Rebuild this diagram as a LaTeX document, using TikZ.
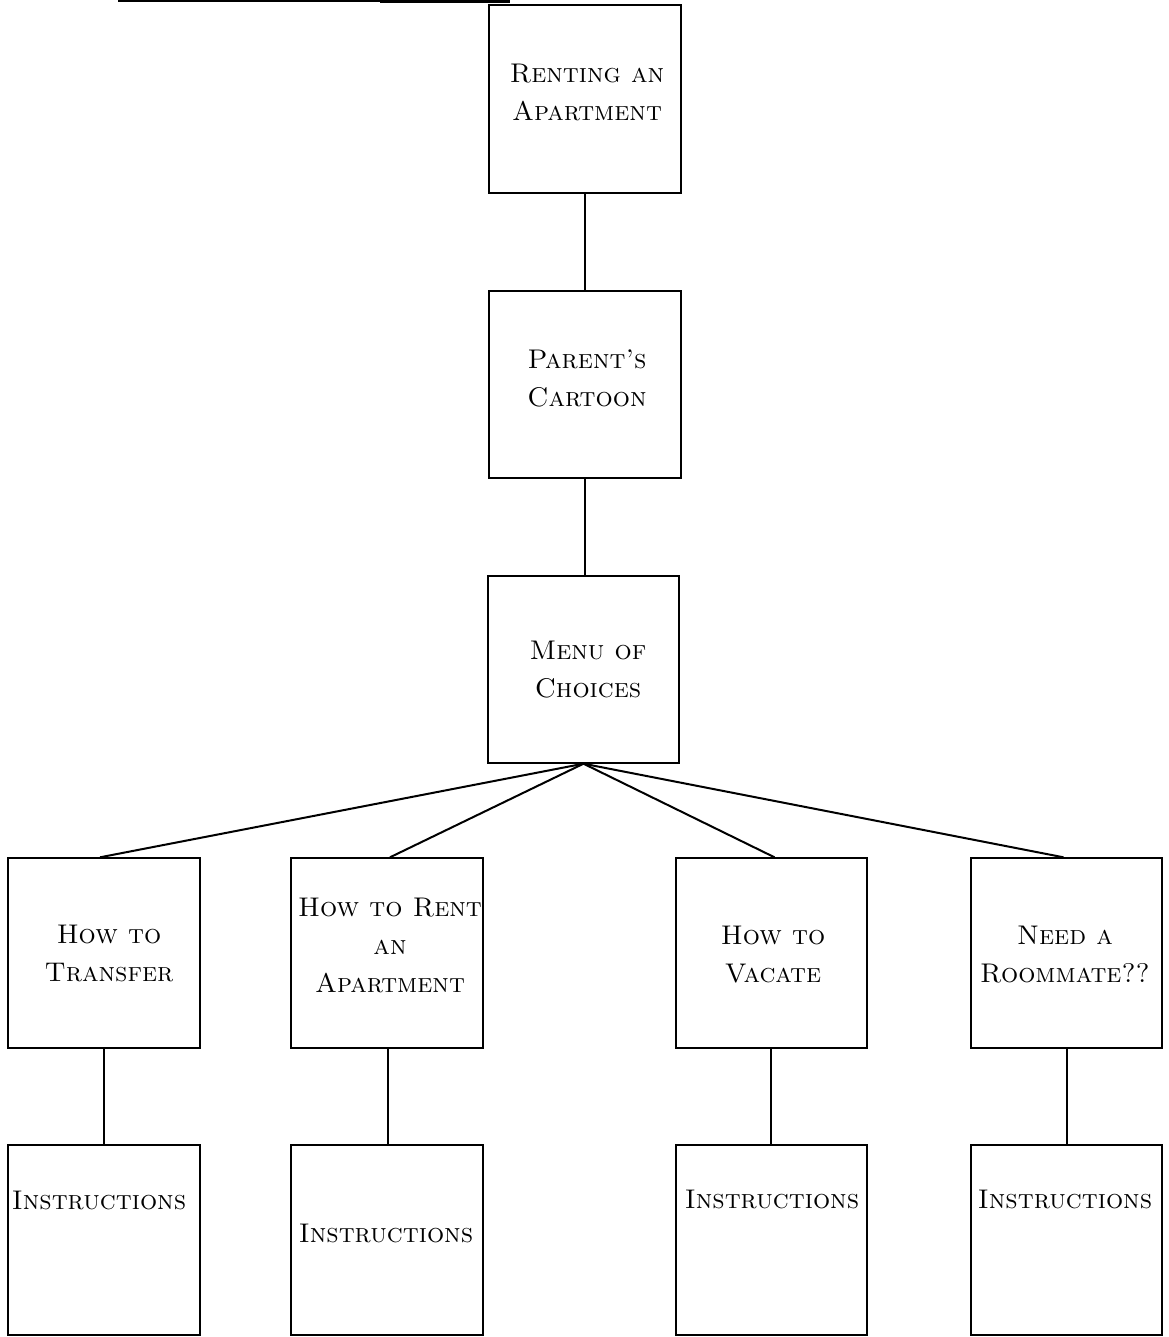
\documentclass[tikz,border=0pt]{standalone}
\begin{document}
\begin{tikzpicture}[x=1pt,y=-1pt,
  box/.style={draw=black,line width=1.4pt,minimum width=#1,minimum height=190pt,inner sep=0pt,anchor=center},
  box/.default=192pt,
  lbl/.style={font=\fontsize{27}{38}\selectfont\scshape,align=center,inner sep=0pt,anchor=center},
  conn/.style={draw=black,line width=1.4pt},
  diag/.style={draw=black,line width=2pt}]
\useasboundingbox (0,0) rectangle (1168,1337);
% scan artifact at top
\draw[line width=1.2pt] (118,1) -- (510,1);
\draw[line width=3pt] (380,1.5) -- (510,1.5);
% boxes
\node[box,minimum height=188pt] (b1) at (585,99) {};
\node[box,minimum height=187pt] (b2) at (585,384.5) {};
\node[box=191pt,minimum height=187pt] (b3) at (583.5,669.5) {};
\node[box] (c1) at (104,953) {};
\node[box] (c2) at (387,953) {};
\node[box=191pt] (c3) at (771.5,953) {};
\node[box=191pt] (c4) at (1066.5,953) {};
\node[box] (d1) at (104,1240) {};
\node[box] (d2) at (387,1240) {};
\node[box=191pt] (d3) at (771.5,1240) {};
\node[box=191pt] (d4) at (1066.5,1240) {};
% texts
\node[lbl] (t1) at (587,92) {Renting an\\Apartment};
\node[lbl] (t2) at (587,378) {Parent's\\Cartoon};
\node[lbl] (t3) at (588,670) {Menu of\\Choices};
\node[lbl] (u1) at (109,953) {How to\\Transfer};
\node[lbl] (u2) at (390,945) {How to Rent\\an\\Apartment};
\node[lbl] (u3) at (773,955) {How to\\Vacate};
\node[lbl] (u4) at (1065,955) {Need a\\Roommate??};
\node[lbl] (v1) at (99,1200) {Instructions};
\node[lbl] (v2) at (386,1233) {Instructions};
\node[lbl] (v3) at (772,1199) {Instructions};
\node[lbl] (v4) at (1065,1199) {Instructions};
% connectors
\draw[conn] (b1.south) -- (b2.north);
\draw[conn] (b2.south) -- (b2.south |- b3.north);
\draw[diag] (b3.south) -- ([xshift=-4pt]c1.north);
\draw[diag] (b3.south) -- ([xshift=3pt]c2.north);
\draw[diag] (b3.south) -- ([xshift=3pt]c3.north);
\draw[diag] (b3.south) -- ([xshift=-3pt]c4.north);
\draw[conn] (c1.south) -- (d1.north);
\draw[conn] ([xshift=1pt]c2.south) -- ([xshift=1pt]d2.north);
\draw[conn] ([xshift=-0.5pt]c3.south) -- ([xshift=-0.5pt]d3.north);
\draw[conn] ([xshift=0.5pt]c4.south) -- ([xshift=0.5pt]d4.north);
\end{tikzpicture}
\end{document}
